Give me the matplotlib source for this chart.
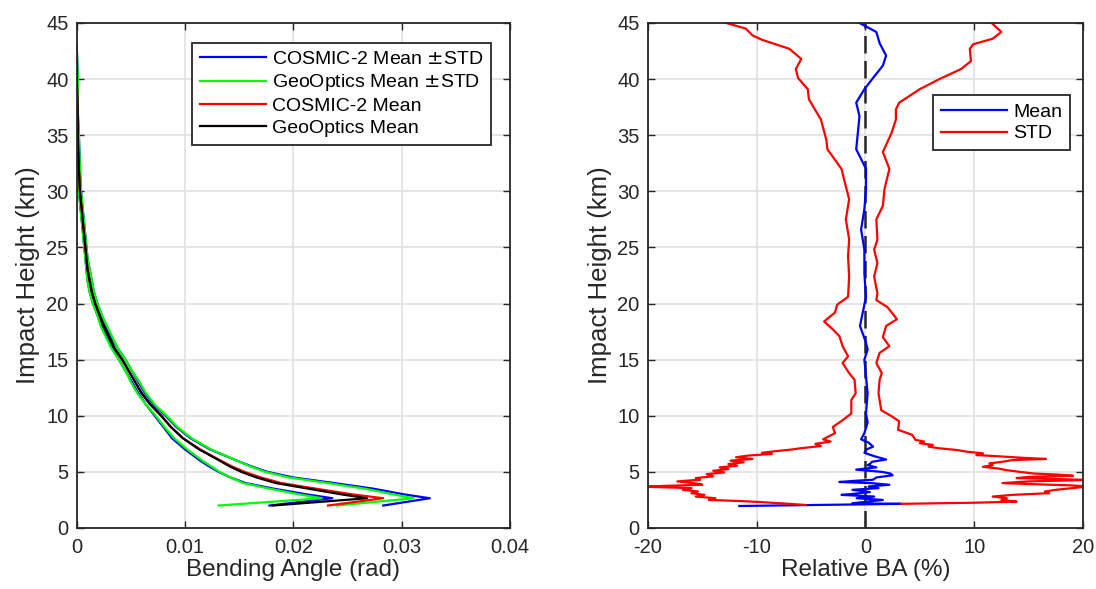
import numpy as np
import matplotlib
matplotlib.use('Agg')
import matplotlib.pyplot as plt

plt.rcParams['font.family'] = ['Liberation Sans', 'DejaVu Sans']

# ---- bending angle profiles (rad) on common impact heights (km) ----
ba_heights = [43, 40, 37, 35, 32, 30, 28, 26, 25, 24, 23, 22, 21, 20, 19, 18,
              17, 16, 15, 14, 13, 12, 11, 10, 9, 8, 7, 6, 5.5, 5, 4.5, 4, 3.5,
              3.0, 2.65, 2.0]

geo_mean = [0.0000, 0.0000, 0.0001, 0.0001, 0.0002, 0.0003, 0.0005, 0.0007,
            0.0008, 0.0009, 0.0010, 0.0012, 0.0014, 0.0017, 0.0021, 0.0025,
            0.0030, 0.0035, 0.0042, 0.0048, 0.0054, 0.0060, 0.0068, 0.0078,
            0.0087, 0.0098, 0.0113, 0.0132, 0.0141, 0.0152, 0.0166, 0.0184,
            0.0214, 0.0244, 0.0268, 0.0181]
cosmic_mean = [0.0000, 0.0000, 0.0001, 0.0001, 0.0002, 0.0003, 0.0005, 0.0007,
               0.0008, 0.0009, 0.0010, 0.0012, 0.0014, 0.0017, 0.0021, 0.0025,
               0.0030, 0.0035, 0.0042, 0.0048, 0.0054, 0.0060, 0.0068, 0.0078,
               0.0087, 0.0098, 0.0114, 0.0133, 0.0143, 0.0155, 0.0170, 0.0189,
               0.0221, 0.0254, 0.0283, 0.0232]
geo_upper = [0.0000, 0.0001, 0.0001, 0.0002, 0.0003, 0.0004, 0.0006, 0.0008,
             0.0009, 0.0010, 0.0012, 0.0014, 0.0016, 0.0019, 0.0023, 0.0028,
             0.0033, 0.0038, 0.0045, 0.0051, 0.0058, 0.0064, 0.0072, 0.0083,
             0.0093, 0.0106, 0.0124, 0.0148, 0.0160, 0.0174, 0.0196, 0.0232,
             0.0266, 0.0292, 0.0311, 0.0240]
geo_lower = [0.0000, 0.0000, 0.0000, 0.0001, 0.0001, 0.0002, 0.0004, 0.0006,
             0.0007, 0.0008, 0.0009, 0.0010, 0.0012, 0.0015, 0.0019, 0.0022,
             0.0027, 0.0032, 0.0039, 0.0045, 0.0050, 0.0056, 0.0064, 0.0073,
             0.0081, 0.0090, 0.0102, 0.0116, 0.0124, 0.0132, 0.0142, 0.0154,
             0.0178, 0.0205, 0.0226, 0.0131]
cosmic_upper = [0.0000, 0.0001, 0.0001, 0.0002, 0.0003, 0.0004, 0.0006, 0.0008,
                0.0009, 0.0010, 0.0012, 0.0014, 0.0016, 0.0019, 0.0023, 0.0027,
                0.0032, 0.0038, 0.0045, 0.0051, 0.0057, 0.0063, 0.0071, 0.0082,
                0.0092, 0.0105, 0.0123, 0.0148, 0.0161, 0.0176, 0.0200, 0.0238,
                0.0274, 0.0302, 0.0326, 0.0283]
cosmic_lower = [0.0000, 0.0000, 0.0000, 0.0001, 0.0001, 0.0002, 0.0004, 0.0006,
                0.0007, 0.0008, 0.0009, 0.0010, 0.0012, 0.0015, 0.0019, 0.0023,
                0.0028, 0.0033, 0.0039, 0.0045, 0.0051, 0.0057, 0.0064, 0.0072,
                0.0080, 0.0088, 0.0100, 0.0114, 0.0122, 0.0131, 0.0142, 0.0156,
                0.0182, 0.0212, 0.0236, 0.0178]

# ---- relative bending angle difference (%) ----
mean_h = [45.0, 44.2, 43.2, 42.1, 41.2, 40.1, 39.1, 37.9, 36.7, 35.2, 33.75,
          32.0, 30.2, 28.4, 26.6, 24.8, 22.7, 20.6, 19.2, 18.0, 16.5, 15.9,
          15.0, 13.5, 12.0, 10.2, 9.4, 8.45, 7.9, 7.6, 7.25, 7.0, 6.7, 6.4,
          6.1, 5.9, 5.7, 5.6, 5.4, 5.2, 5.0, 4.85, 4.7, 4.5, 4.3, 4.2, 4.1,
          4.0, 3.85, 3.7, 3.55, 3.4, 3.2, 3.05, 2.95, 2.8, 2.65, 2.5, 2.35,
          2.2, 2.15, 1.96]
mean_pct = [-0.55, 1.0, 1.3, 1.9, 1.6, 0.7, -0.1, -0.85, -0.55, -0.7, -0.85,
            0.05, 0.05, -0.1, -0.4, -0.1, -0.1, 0.05, -0.25, -0.5, 0.05, 0.2,
            -0.1, 0.05, 0.2, 0.05, 0.2, -0.1, -0.4, 0.3, 0.7, 0.1, -0.1, 0.8,
            1.9, 0.6, 0.4, 0.2, 1.0, -0.85, 1.5, 2.3, 2.5, 1.0, 0.7, -1.0,
            -2.4, 0.5, 2.2, 0.3, 1.2, -1.2, 0.4, -1.0, -2.2, 0.8, -0.8, 1.6,
            0.2, -1.2, 3.3, -11.6]

std_left_h = [45.0, 44.5, 43.9, 43.5, 42.7, 41.8, 40.9, 40.1, 39.1, 38.2, 36.4,
              34.6, 33.75, 32.0, 30.8, 29.3, 27.5, 25.7, 24.2, 22.4, 20.6,
              19.9, 19.2, 18.4, 17.7, 17.1, 16.2, 15.3, 14.7, 13.8, 13.2, 12.0,
              11.4, 10.2, 9.6, 9.0, 8.45, 7.9, 7.7, 7.5, 7.3, 7.1, 7.0, 6.85,
              6.7, 6.6, 6.45, 6.3, 6.15, 6.0, 5.85, 5.7, 5.55, 5.4, 5.25, 5.1,
              4.95, 4.8, 4.6, 4.45, 4.3, 4.15, 4.0, 3.85, 3.75, 3.68, 3.55, 3.4,
              3.25, 3.1, 2.95, 2.8, 2.65, 2.5, 2.4, 2.3, 2.15, 2.05]
std_left_pct = [-12.8, -11.0, -10.4, -9.5, -7.0, -5.9, -6.4, -6.2, -5.3, -5.2,
                -4.1, -3.6, -3.5, -2.2, -1.9, -1.5, -1.8, -1.5, -1.6, -1.5,
                -1.6, -2.6, -2.8, -3.8, -3.0, -2.4, -2.1, -1.6, -2.1, -1.5,
                -1.0, -0.9, -1.3, -1.3, -2.1, -3.0, -2.8, -3.9, -3.2, -4.6,
                -4.1, -6.0, -6.7, -8.2, -9.5, -8.6, -10.8, -11.9, -10.4, -12.4,
                -11.2, -12.6, -11.8, -13.4, -12.6, -14.0, -13.0, -14.6, -14.0,
                -15.6, -15.2, -17.3, -15.8, -15.0, -18.5, -20.5, -16.0, -16.8,
                -15.4, -16.0, -14.8, -15.6, -13.8, -14.4, -11.5, -9.5, -7.0,
                -5.5]

std_right_h = [45.0, 44.2, 43.6, 43.1, 42.7, 41.6, 40.9, 40.0, 39.1, 37.9,
               37.3, 36.4, 35.2, 33.5, 32.0, 30.2, 28.7, 27.5, 25.7, 24.8,
               23.6, 22.4, 20.9, 20.3, 19.7, 18.6, 18.0, 17.0, 16.2, 15.6,
               14.7, 13.8, 13.2, 12.0, 10.5, 9.9, 9.5, 8.75, 8.3, 7.85, 7.7,
               7.55, 7.4, 7.25, 7.1, 6.95, 6.8, 6.65, 6.5, 6.4, 6.25, 6.15,
               6.05, 5.9, 5.75, 5.6, 5.45, 5.3, 5.15, 5.0, 4.85, 4.75, 4.65,
               4.55, 4.45, 4.35, 4.28, 4.15, 4.0, 3.9, 3.8, 3.7, 3.55, 3.4,
               3.25, 3.1, 2.95, 2.8, 2.65, 2.5, 2.35, 2.25, 2.2, 2.15]
std_right_pct = [11.6, 12.5, 11.7, 9.9, 9.6, 9.7, 8.8, 6.8, 5.0, 3.1, 2.8, 2.8,
                 2.4, 1.6, 2.2, 1.75, 1.6, 1.0, 1.1, 0.8, 1.1, 0.8, 1.1, 1.0,
                 2.0, 2.9, 1.9, 1.6, 2.2, 1.3, 1.0, 1.5, 1.3, 1.2, 1.45, 2.5,
                 3.1, 3.0, 4.3, 4.6, 5.4, 5.0, 6.2, 5.8, 6.8, 8.4, 9.3, 10.8,
                 10.2, 12.0, 14.5, 16.6, 13.5, 12.6, 11.4, 11.7, 10.8, 12.2,
                 13.0, 14.2, 15.5, 17.8, 19.1, 15.0, 13.9, 18.0, 20.5, 15.0,
                 12.6, 15.5, 18.8, 20.5, 19.0, 17.5, 16.5, 16.9, 13.5, 11.7,
                 13.0, 12.5, 13.9, 10.0, 6.5, 3.3]

ba_ticks = [0, 0.01, 0.02, 0.03, 0.04]
ba_ticklabels = ['0', '0.01', '0.02', '0.03', '0.04']
rel_ticks = [-20, -10, 0, 10, 20]
rel_ticklabels = ['-20', '-10', '0', '10', '20']
height_ticks = list(range(0, 50, 5))

axis_color = '#262626'


def style_axes(ax):
    ax.set_ylim(0, 45)
    ax.set_yticks(height_ticks)
    ax.grid(True, color='#e3e3e3', linewidth=1.3)
    ax.set_axisbelow(True)
    ax.tick_params(direction='in', top=True, right=True, length=5,
                   width=1.0, colors=axis_color, labelsize=14.5)
    ax.tick_params(axis='x', pad=7)
    ax.tick_params(axis='y', pad=6)
    for spine in ax.spines.values():
        spine.set_color(axis_color)
        spine.set_linewidth(1.3)
    ax.set_ylabel('Impact Height (km)', fontsize=18.5, color=axis_color,
                  labelpad=4)


def style_legend(leg):
    frame = leg.get_frame()
    frame.set_edgecolor(axis_color)
    frame.set_linewidth(1.3)


fig = plt.figure(figsize=(10.96, 5.89), dpi=100)
ax1 = fig.add_axes([0.0700, 0.1036, 0.3953, 0.8574])
ax2 = fig.add_axes([0.5912, 0.1036, 0.3969, 0.8574])

# left panel: mean profiles and +/- STD envelopes
lw = 1.6
ax1.plot(cosmic_upper, ba_heights, color='#0000ff', lw=lw,
         label='COSMIC-2 Mean $\\pm$STD')
ax1.plot(cosmic_lower, ba_heights, color='#0000ff', lw=lw)
ax1.plot(geo_upper, ba_heights, color='#00ff00', lw=lw,
         label='GeoOptics Mean $\\pm$STD')
ax1.plot(geo_lower, ba_heights, color='#00ff00', lw=lw)
ax1.plot(cosmic_mean, ba_heights, color='#ff0000', lw=lw,
         label='COSMIC-2 Mean')
ax1.plot(geo_mean, ba_heights, color='black', lw=lw, label='GeoOptics Mean')
ax1.set_xlim(0, 0.04)
ax1.set_xticks(ba_ticks)
ax1.set_xticklabels(ba_ticklabels)
ax1.set_xlabel('Bending Angle (rad)', fontsize=17.5, color=axis_color,
               labelpad=2)
style_axes(ax1)
leg1 = ax1.legend(loc='upper right', bbox_to_anchor=(0.957, 0.961),
                  fontsize=14, handlelength=3.4, handletextpad=0.3,
                  labelspacing=0.22, borderpad=0.4, fancybox=False,
                  framealpha=1, borderaxespad=0)
style_legend(leg1)

# right panel: relative difference mean and STD
ax2.plot([0, 0], [0, 45], color=axis_color, lw=1.8, dashes=(7, 3))
ax2.plot(mean_pct, mean_h, color='#0000ff', lw=lw, label='Mean')
ax2.plot(std_left_pct, std_left_h, color='#ff0000', lw=lw, label='STD')
ax2.plot(std_right_pct, std_right_h, color='#ff0000', lw=lw)
ax2.set_xlim(-20, 20)
ax2.set_xticks(rel_ticks)
ax2.set_xticklabels(rel_ticklabels)
ax2.set_xlabel('Relative BA (%)', fontsize=17.5, color=axis_color,
               labelpad=2)
style_axes(ax2)
leg2 = ax2.legend(loc='upper right', bbox_to_anchor=(0.970, 0.857),
                  fontsize=14, handlelength=3.4, handletextpad=0.3,
                  labelspacing=0.22, borderpad=0.4, fancybox=False,
                  framealpha=1, borderaxespad=0)
style_legend(leg2)

fig.savefig('out.png', dpi=100)
